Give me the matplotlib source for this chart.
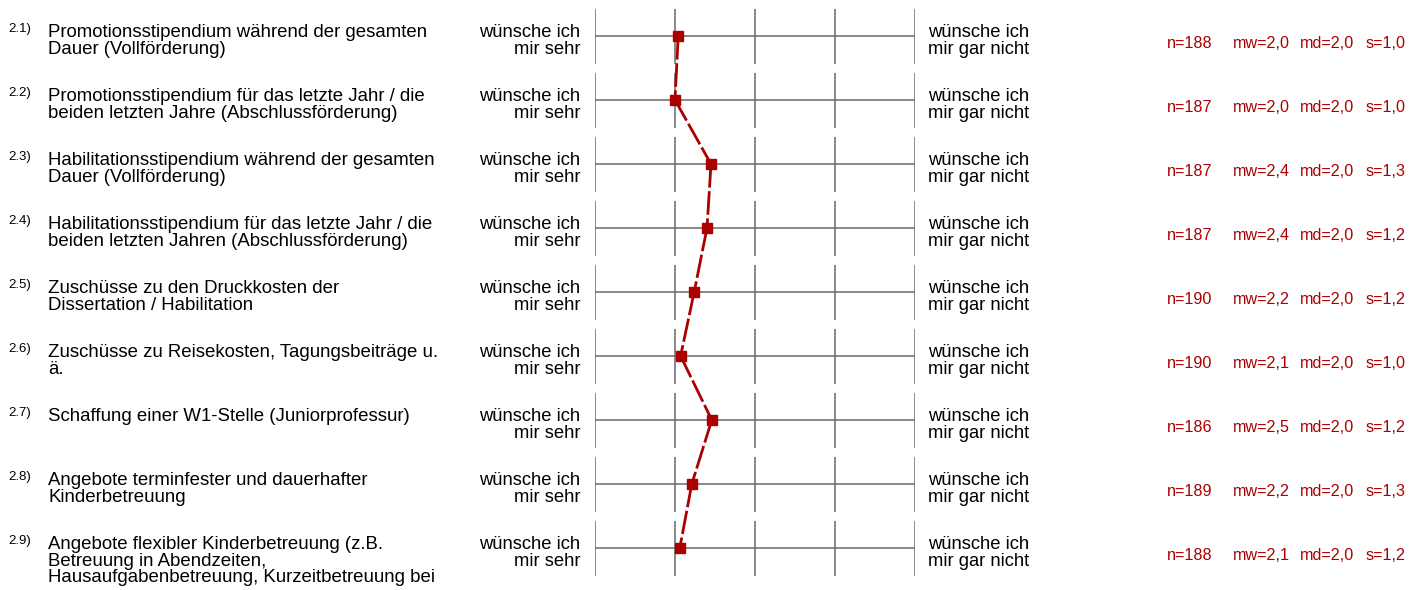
import matplotlib

matplotlib.use("Agg")
import matplotlib.pyplot as plt  # noqa: E402

W, H, DPI = 1425, 590, 100
RED = "#aa0000"
GRID = "#686868"

item_ids = ["2.1)", "2.2)", "2.3)", "2.4)", "2.5)", "2.6)", "2.7)", "2.8)", "2.9)"]
item_labels = [
    "Promotionsstipendium während der gesamten\nDauer (Vollförderung)",
    "Promotionsstipendium für das letzte Jahr / die\nbeiden letzten Jahre (Abschlussförderung)",
    "Habilitationsstipendium während der gesamten\nDauer (Vollförderung)",
    "Habilitationsstipendium für das letzte Jahr / die\nbeiden letzten Jahren (Abschlussförderung)",
    "Zuschüsse zu den Druckkosten der\nDissertation / Habilitation",
    "Zuschüsse zu Reisekosten, Tagungsbeiträge u.\nä.",
    "Schaffung einer W1-Stelle (Juniorprofessur)",
    "Angebote terminfester und dauerhafter\nKinderbetreuung",
    "Angebote flexibler Kinderbetreuung (z.B.\nBetreuung in Abendzeiten,\nHausaufgabenbetreuung, Kurzeitbetreuung bei",
]
left_anchor = "wünsche ich\nmir sehr"
right_anchor = "wünsche ich\nmir gar nicht"
# marker positions on the 1..5 scale, as drawn
means = [2.04, 2.00, 2.45, 2.40, 2.24, 2.07, 2.46, 2.21, 2.06]
n_values = [188, 187, 187, 187, 190, 190, 186, 189, 188]
mw_values = ["2,0", "2,0", "2,4", "2,4", "2,2", "2,1", "2,5", "2,2", "2,1"]
md_values = ["2,0"] * 9
s_values = ["1,0", "1,0", "1,3", "1,2", "1,2", "1,0", "1,2", "1,3", "1,2"]

plt.rcParams["font.family"] = ["Liberation Sans", "DejaVu Sans"]

fig = plt.figure(figsize=(W / DPI, H / DPI), dpi=DPI)

# scale axes: x 1..5 spans pixels 595..915, row i centred at 36 + 64*i px
row_top, row_pitch = 36, 64
ax = fig.add_axes([595 / W, 0, 320 / W, 1])
ax.set_xlim(1, 5)
ax.set_ylim((H - row_top) / row_pitch, -row_top / row_pitch)
ax.axis("off")

rows = list(range(len(item_labels)))
half = 27.5 / row_pitch
for i in rows:
    ax.vlines([1, 2, 3, 4, 5], i - half, i + half, color=GRID, lw=1.1)
    ax.hlines(i, 1, 5, color=GRID, lw=1.1)

# each segment drawn on its own so the dash pattern restarts at every marker
for i in rows[:-1]:
    ax.plot(means[i:i + 2], rows[i:i + 2], color=RED, lw=2.0,
            dashes=(8.5, 1.3), zorder=3)
ax.plot(means, rows, ls="none", marker="s", ms=6.5, color=RED, zorder=4)


def fy(px):
    return 1 - px / H


for i in rows:
    yc = row_top + row_pitch * i
    fig.text(8 / W, fy(yc - 13), item_ids[i], fontsize=9.5, va="top", ha="left")
    fig.text(48 / W, fy(yc - 12), item_labels[i], fontsize=13.4, va="top",
             ha="left", linespacing=0.97)
    fig.text(580 / W, fy(yc + 5), left_anchor, fontsize=13.2, va="center",
             ha="right", linespacing=1.02)
    fig.text(928 / W, fy(yc + 5), right_anchor, fontsize=13.2, va="center",
             ha="left", linespacing=1.02)
    y_stat = fy(yc + 7)
    fig.text(1167 / W, y_stat, f"n={n_values[i]}", fontsize=11.6, color=RED, va="center")
    fig.text(1233 / W, y_stat, f"mw={mw_values[i]}", fontsize=11.6, color=RED, va="center")
    fig.text(1300 / W, y_stat, f"md={md_values[i]}", fontsize=11.6, color=RED, va="center")
    fig.text(1366 / W, y_stat, f"s={s_values[i]}", fontsize=11.6, color=RED, va="center")

fig.savefig("out.png", dpi=DPI)
